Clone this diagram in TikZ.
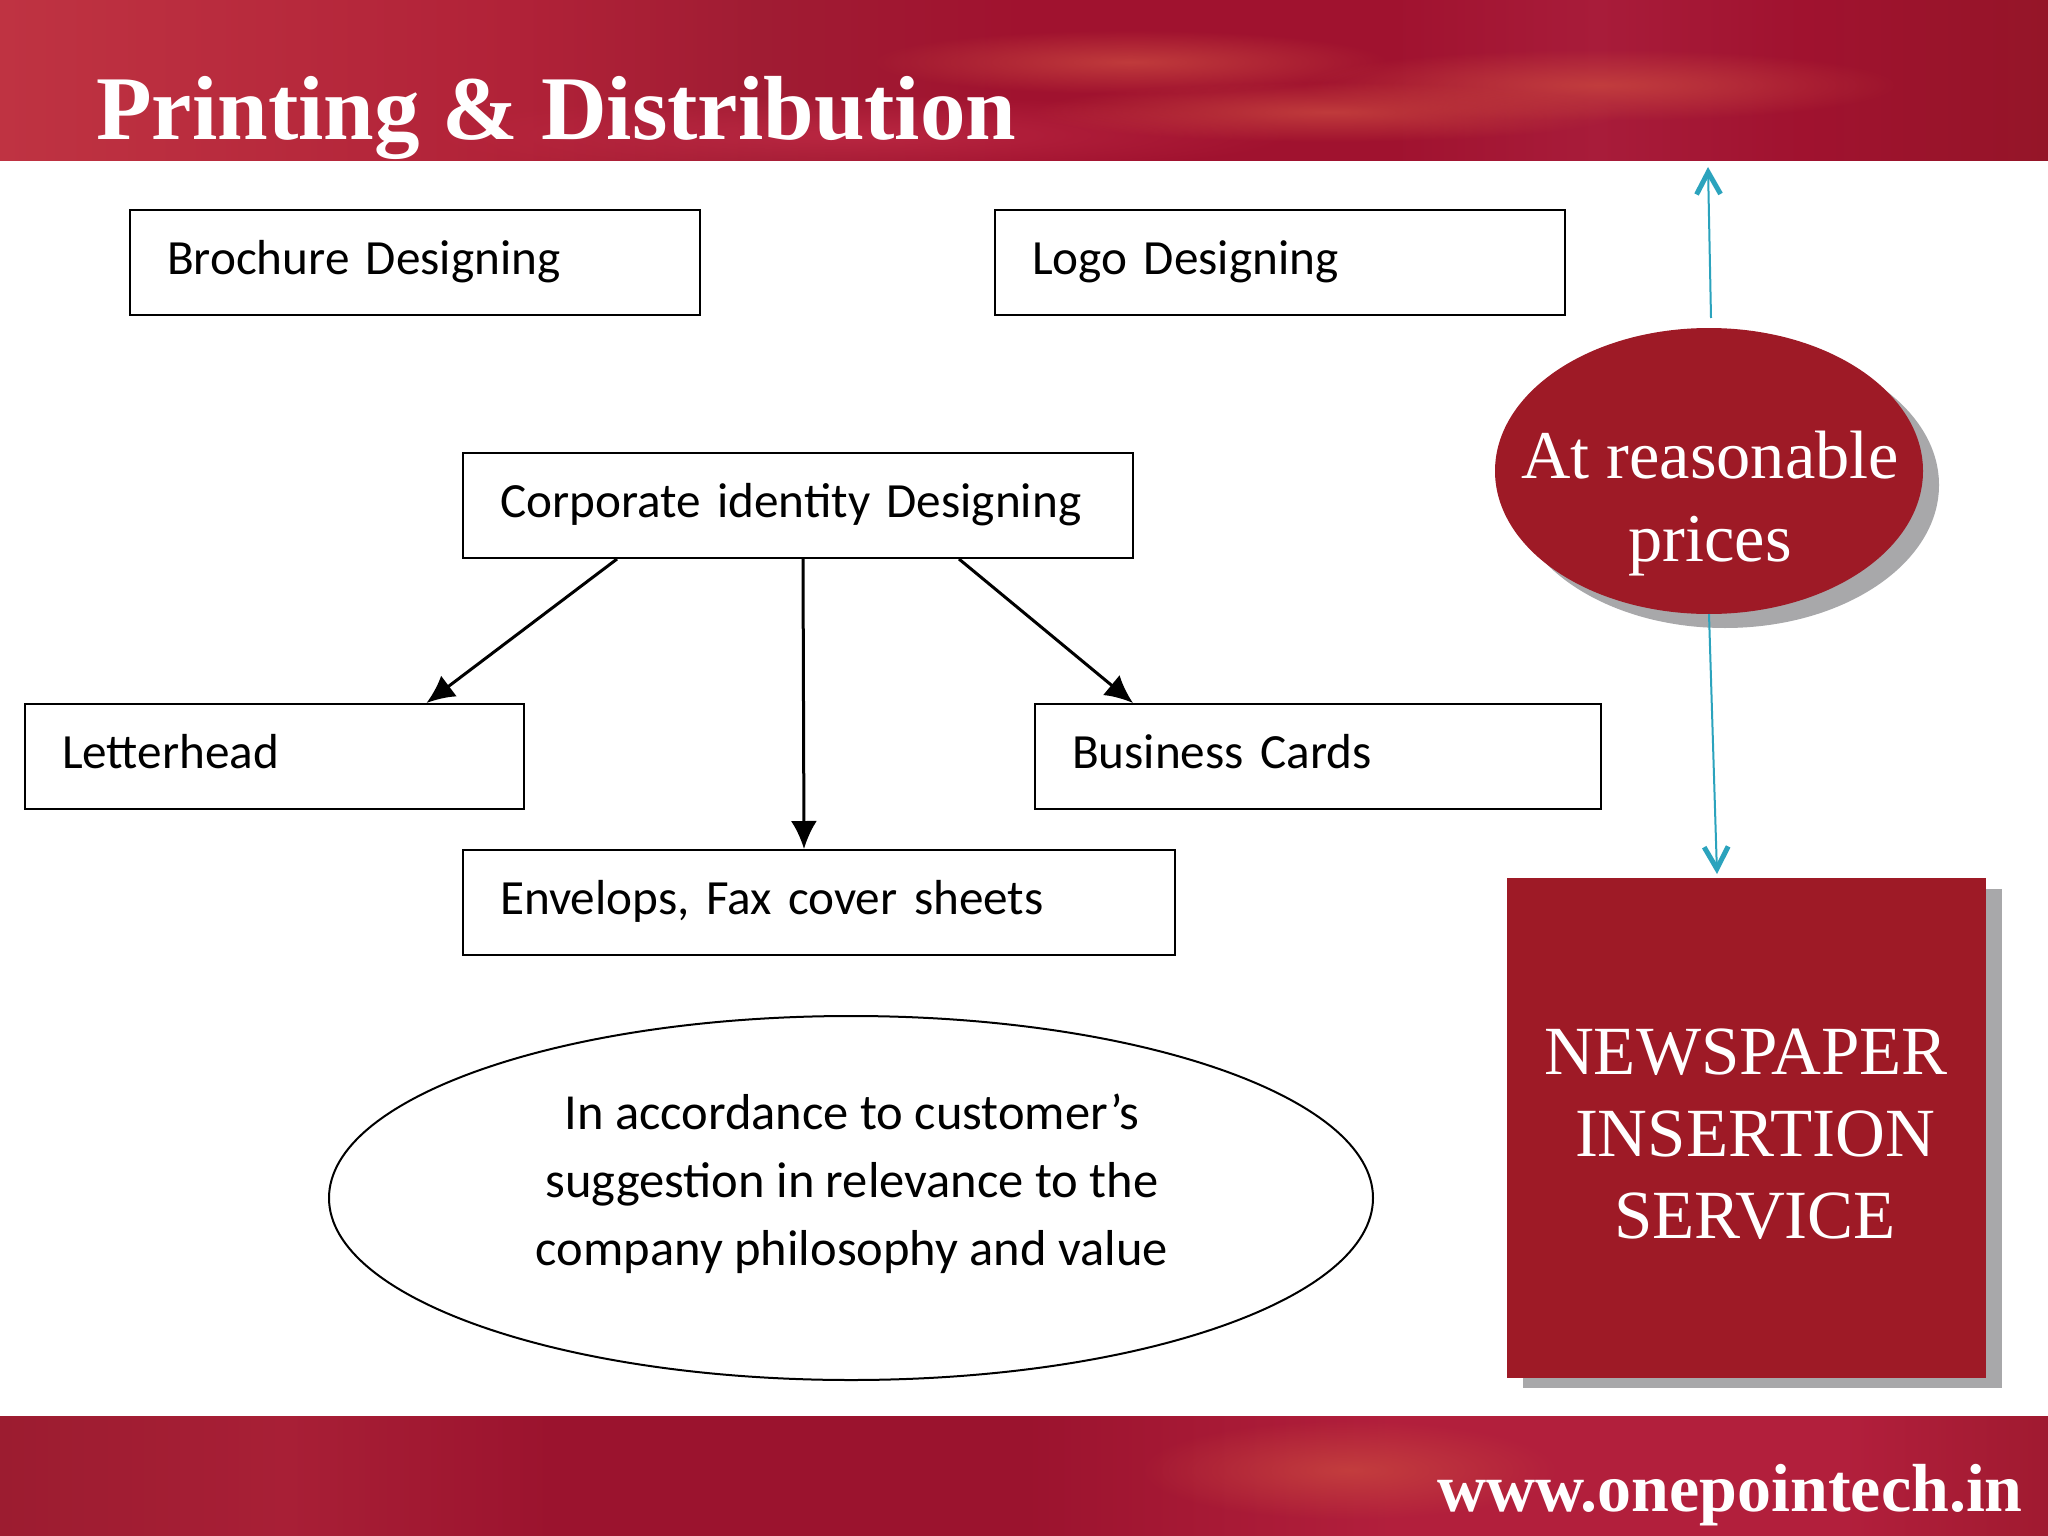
\documentclass[tikz,border=0pt]{standalone}
\usepackage{fontspec}
\setmainfont{Liberation Serif}
\newfontfamily\boxfont{Carlito}
\usetikzlibrary{shapes.geometric,arrows.meta,fadings,shadings}
\definecolor{deepred}{HTML}{9E1A26}
\definecolor{shadowgrey}{HTML}{A8A8AA}
\definecolor{tealline}{HTML}{2BA3BD}
\definecolor{barA}{HTML}{BF3342}
\definecolor{barB}{HTML}{B12238}
\definecolor{barC}{HTML}{A01C33}
\definecolor{barD}{HTML}{A0122F}
\definecolor{barE}{HTML}{A81C3A}
\definecolor{barF}{HTML}{951528}
\definecolor{footA}{HTML}{9C1C30}
\definecolor{footB}{HTML}{A81F36}
\definecolor{footC}{HTML}{9B132E}
\definecolor{footD}{HTML}{B21F3C}
\definecolor{footE}{HTML}{A01A30}
\definecolor{glow}{HTML}{C8453F}
\definecolor{softglow}{HTML}{C02A45}
\pgfdeclarehorizontalshading{barshade}{100bp}{
 color(0bp)=(barA); color(25bp)=(barA); color(37.5bp)=(barB); color(43.5bp)=(barC); color(50bp)=(barD);
 color(59bp)=(barD); color(64bp)=(barE); color(69bp)=(barD); color(75bp)=(barF); color(100bp)=(barF)}
\pgfdeclarehorizontalshading{footshade}{100bp}{
 color(0bp)=(footA); color(25bp)=(footA); color(32bp)=(footB); color(38.5bp)=(footC); color(50bp)=(footC);
 color(59bp)=(footD); color(70bp)=(footD); color(75bp)=(footE); color(100bp)=(footE)}
\tikzfading[name=softspot, inner color=transparent!20, outer color=transparent!100]
\tikzset{
 labelbox/.style 2 args={draw=black, line width=2pt, fill=white, anchor=north west, rectangle,
   minimum width=#1, minimum height=#2, text width=#1-74pt, inner xsep=37pt, inner ysep=0pt,
   align=left, font=\boxfont\fontsize{49.2}{56}\selectfont, text=black, text height=44pt, text depth=20pt},
 flowarrow/.style={draw=black, line width=3pt, -{Latex[length=28pt,width=26pt]}},
 tealarrow/.style={draw=tealline, line width=2pt, -{Straight Barb[length=22pt,width=24pt,line width=5pt]}},
 whitetext/.style={text=white, align=center, inner sep=0pt},
 streak/.style={fill=#1, path fading=softspot, draw=none},
}
\begin{document}
\begin{tikzpicture}[x=1pt,y=-1pt]
\useasboundingbox (0,0) rectangle (2048,1536);
\fill[white] (0,0) rectangle (2048,1536);
\clip (0,0) rectangle (2048,1536);
% header and footer bands
\shade[shading=barshade] (0,0) rectangle (2048,161);
\shade[shading=footshade] (0,1416) rectangle (2048,1536);
\begin{scope}
\clip (0,0) rectangle (2048,161);
\fill[streak=softglow] (850,135) ellipse (450 and 40);
\fill[streak=glow] (1130,62) ellipse (260 and 32);
\fill[streak=glow] (1600,85) ellipse (300 and 36);
\fill[streak=glow] (1330,112) ellipse (300 and 30);
\end{scope}
\begin{scope}
\clip (0,1416) rectangle (2048,1536);
\fill[streak=glow] (1350,1470) ellipse (210 and 50);
\end{scope}
\node[whitetext, anchor=base west, font=\bfseries\fontsize{91}{91}\selectfont] (title) at (96,140) {Printing \& Distribution};
\node[whitetext, anchor=base east, font=\bfseries\fontsize{68}{68}\selectfont] (url) at (2023,1511) {www.onepointech.in};
% boxes
\node[labelbox={570pt}{105pt}] (brochure) at (129,209) {Brochure Designing};
\node[labelbox={570pt}{105pt}] (logo) at (994,209) {Logo Designing};
\node[labelbox={670pt}{105pt}] (corp) at (462,452) {Corporate identity Designing};
\node[labelbox={499pt}{105pt}] (letter) at (24,703) {Letterhead};
\node[labelbox={566pt}{105pt}] (biz) at (1034,703) {Business Cards};
\node[labelbox={712pt}{105pt}] (env) at (462,849) {Envelops, Fax cover sheets};
\draw[flowarrow] ([xshift=-181pt]corp.south) -- ([xshift=152pt]letter.north);
\draw[flowarrow] ([xshift=5pt]corp.south) -- ([xshift=-15pt]env.north);
\draw[flowarrow] ([xshift=161pt]corp.south) -- ([xshift=-185pt]biz.north);
% big ellipse
\node[ellipse, draw=black, line width=2pt, fill=white, minimum width=1044pt, minimum height=364pt, inner sep=0pt] (note) at (851,1198) {};
\node[align=center, inner sep=0pt, font=\boxfont\fontsize{50.5}{68}\selectfont] (notetext) at (852,1184)
  {In accordance to customer’s\\suggestion in relevance to the\\company philosophy and value};
% red ellipse
\fill[shadowgrey] (1725,485) ellipse (214 and 143);
\node[ellipse, fill=deepred, minimum width=428pt, minimum height=286pt, inner sep=0pt] (price) at (1709,471) {};
\node[whitetext, font=\fontsize{68.4}{83}\selectfont] (pricetext) at (1710,504) {At reasonable\\prices};
\coordinate (upend) at (1708,167);
\coordinate (upstart) at (1711,318);
\coordinate (downend) at (1717,874);
\draw[tealarrow] (upstart) -- (upend);
\draw[tealarrow] (price.south) -- (downend);
% red square
\fill[shadowgrey] (1523,889) rectangle (2002,1388);
\node[rectangle, fill=deepred, anchor=north west, minimum width=479pt, minimum height=500pt, inner sep=0pt] (paper) at (1507,878) {};
\node[whitetext, font=\fontsize{69}{82}\selectfont] (papertext) at (1755,1134) {NEWSPAPER\hspace*{18pt}\\INSERTION\\SERVICE};
\end{tikzpicture}
\end{document}
